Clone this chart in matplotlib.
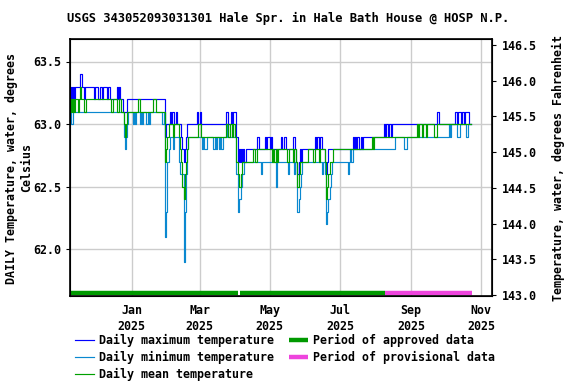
import numpy as np
import pandas as pd
import matplotlib
matplotlib.use('Agg')
import matplotlib.pyplot as plt
import matplotlib.dates as mdates
import matplotlib.transforms as mtransforms

# first day of record
start_day = '2024-11-08'

# daily values, as (value degC, number of days) runs
max_runs = [
    (63.2, 1), (63.3, 1), (63.2, 1), (63.3, 1), (63.2, 1), (63.3, 4), (63.4, 2), (63.3, 1),
    (63.2, 1), (63.3, 8), (63.2, 1), (63.3, 3), (63.2, 1), (63.3, 2), (63.2, 1), (63.3, 3),
    (63.2, 1), (63.3, 2), (63.2, 6), (63.3, 1), (63.2, 1), (63.3, 1), (63.2, 2), (63.1, 4),
    (63.2, 33), (62.9, 1), (63.0, 3), (63.1, 1), (63.0, 1), (63.1, 2), (63.0, 1), (63.1, 1),
    (63.0, 4), (62.9, 1), (62.8, 1), (62.7, 1), (62.8, 1), (62.9, 1), (63.0, 9), (63.1, 1),
    (63.0, 1), (63.1, 1), (63.0, 9), (np.nan, 1), (63.0, 12), (63.1, 2), (63.0, 2), (63.1, 1),
    (63.0, 1), (63.1, 3), (62.9, 1), (62.7, 1), (62.8, 1), (62.7, 1), (62.8, 1), (62.7, 1),
    (62.8, 1), (62.7, 1), (62.8, 10), (62.9, 2), (62.8, 5), (62.9, 1), (62.8, 1), (62.9, 2),
    (62.8, 1), (62.9, 1), (62.8, 8), (62.9, 1), (62.8, 1), (62.9, 2), (62.8, 6), (62.9, 2),
    (62.8, 1), (62.7, 1), (62.6, 1), (62.7, 1), (62.8, 1), (62.7, 1), (62.8, 11), (62.9, 1),
    (62.8, 1), (62.9, 2), (62.8, 1), (62.9, 1), (62.8, 3), (62.7, 1), (62.6, 1), (62.7, 1),
    (62.8, 21), (62.9, 1), (62.8, 1), (62.9, 1), (62.8, 1), (62.9, 2), (62.8, 1), (62.9, 1),
    (62.8, 1), (62.9, 18), (63.0, 1), (62.9, 1), (63.0, 2), (62.9, 1), (63.0, 1), (62.9, 1),
    (63.0, 39), (63.1, 2), (63.0, 14), (63.1, 2), (63.0, 1), (63.1, 2), (63.0, 1), (63.1, 2),
    (63.0, 1), (63.1, 3), (63.0, 3),
]

min_runs = [
    (63.1, 1), (63.0, 2), (63.1, 44), (62.9, 1), (62.8, 1), (62.9, 1), (63.0, 1), (63.1, 4),
    (63.0, 1), (63.1, 1), (63.0, 1), (63.1, 3), (63.0, 1), (63.1, 1), (63.0, 1), (63.1, 2),
    (63.0, 2), (63.1, 1), (63.0, 1), (63.1, 10), (63.0, 2), (63.1, 1), (62.1, 1), (62.3, 1),
    (62.7, 1), (62.8, 1), (62.9, 3), (62.8, 1), (62.9, 4), (62.7, 1), (62.6, 3), (61.9, 1),
    (62.3, 1), (62.6, 1), (62.8, 1), (62.9, 12), (62.8, 1), (62.9, 1), (62.8, 2), (62.9, 4),
    (np.nan, 1), (62.9, 1), (62.8, 1), (62.9, 1), (62.8, 1), (62.9, 2), (62.8, 1), (62.9, 1),
    (62.8, 1), (62.9, 4), (63.0, 1), (62.9, 3), (63.0, 1), (62.9, 3), (62.6, 1), (62.3, 1),
    (62.4, 2), (62.5, 1), (62.6, 2), (62.7, 14), (62.6, 1), (62.7, 12), (62.5, 1), (62.7, 10),
    (62.6, 1), (62.7, 4), (62.6, 1), (62.7, 2), (62.3, 1), (62.4, 1), (62.5, 1), (62.6, 1),
    (62.7, 17), (62.6, 1), (62.7, 2), (62.6, 1), (62.2, 1), (62.3, 1), (62.4, 1), (62.5, 1),
    (62.6, 1), (62.7, 14), (62.6, 1), (62.7, 1), (62.8, 1), (62.7, 1), (62.8, 37), (62.9, 8),
    (62.8, 2), (62.9, 37), (63.0, 1), (62.9, 1), (63.0, 5), (62.9, 2), (63.0, 6), (62.9, 1),
    (63.0, 4),
]

mean_runs = [
    (63.1, 1), (63.2, 1), (63.1, 1), (63.2, 1), (63.1, 1), (63.2, 2), (63.1, 1), (63.2, 1),
    (63.3, 1), (63.2, 2), (63.1, 2), (63.2, 22), (63.1, 2), (63.2, 3), (63.1, 2), (63.2, 2),
    (63.1, 2), (63.0, 1), (62.9, 1), (63.0, 1), (63.1, 9), (63.2, 2), (63.1, 11), (63.2, 3),
    (63.1, 8), (62.7, 1), (62.8, 1), (62.9, 1), (63.0, 4), (62.9, 1), (63.0, 4), (62.9, 1),
    (62.8, 1), (62.7, 1), (62.5, 1), (62.4, 1), (62.6, 1), (62.7, 1), (62.8, 1), (62.9, 9),
    (63.0, 2), (62.9, 9), (np.nan, 1), (62.9, 12), (63.0, 2), (62.9, 1), (63.0, 2), (62.9, 1),
    (63.0, 2), (62.9, 1), (62.7, 1), (62.6, 1), (62.5, 2), (62.6, 1), (62.7, 9), (62.8, 2),
    (62.7, 2), (62.8, 13), (62.7, 1), (62.8, 1), (62.7, 1), (62.8, 1), (62.7, 1), (62.8, 8),
    (62.7, 2), (62.8, 3), (62.7, 1), (62.8, 2), (62.7, 1), (62.5, 1), (62.6, 1), (62.7, 7),
    (62.8, 5), (62.7, 1), (62.8, 4), (62.7, 1), (62.8, 4), (62.7, 1), (62.4, 1), (62.5, 1),
    (62.6, 1), (62.7, 3), (62.8, 34), (62.9, 1), (62.8, 1), (62.9, 37), (63.0, 1), (62.9, 1),
    (63.0, 2), (62.9, 1), (63.0, 3), (62.9, 1), (63.0, 6), (62.9, 2), (63.0, 31),
]

# approval periods (start, end)
approved_periods = [('2024-11-08', '2025-04-03 12:00'), ('2025-04-05', '2025-08-09')]
provisional_periods = [('2025-08-09', '2025-10-24')]


def expand(runs):
    return np.concatenate([np.full(n, v, dtype=float) for v, n in runs])


def series(runs):
    vals = expand(runs)
    days = pd.date_range(start_day, periods=len(vals), freq='D')
    return days, vals


plt.rcParams['font.family'] = 'DejaVu Sans Mono'
plt.rcParams['font.weight'] = 'bold'
fs = 8.4

fig = plt.figure(figsize=(5.76, 3.84), dpi=100)
ax = fig.add_axes([70 / 576, 1 - 296 / 384, 422 / 576, 257 / 384])

c_max = '#0000ff'
c_min = '#0a88d0'
c_mean = '#00a000'
lw = 0.85

for runs, col in [(max_runs, c_max), (min_runs, c_min), (mean_runs, c_mean)]:
    d, v = series(runs)
    ax.plot(d, v, drawstyle='steps-post', color=col, lw=lw)

# approval bars along the bottom
trans = mtransforms.blended_transform_factory(ax.transData, ax.transAxes)
for s, e in approved_periods:
    ax.plot([pd.Timestamp(s), pd.Timestamp(e)], [0.012, 0.012], color='#009900',
            lw=3.2, solid_capstyle='butt', transform=trans)
for s, e in provisional_periods:
    ax.plot([pd.Timestamp(s), pd.Timestamp(e)], [0.012, 0.012], color='#ee44dd',
            lw=3.2, solid_capstyle='butt', transform=trans)

ax.set_xlim(pd.Timestamp('2024-11-08 06:00'), pd.Timestamp('2025-11-10 06:00'))
ax.set_ylim(61.624, 63.68)
ax.set_yticks([62.0, 62.5, 63.0, 63.5])
ax.yaxis.set_major_formatter(matplotlib.ticker.FormatStrFormatter('%.1f'))
ax.xaxis.set_major_locator(mdates.MonthLocator(bymonth=[1, 3, 5, 7, 9, 11]))
ax.xaxis.set_major_formatter(mdates.DateFormatter('%b\n%Y'))
ax.grid(True, color='#cccccc', lw=1.0)
ax.set_axisbelow(True)
ax.tick_params(axis='x', length=0, pad=6, labelsize=fs)
ax.tick_params(axis='y', length=3, pad=3, labelsize=fs, direction='out')
for lab in ax.get_xticklabels():
    lab.set_linespacing(1.25)
for sp in ax.spines.values():
    sp.set_linewidth(1.2)

ax2 = ax.twinx()
ax2.set_ylim(142.986, 146.584)
ax2.set_yticks(np.arange(143.0, 146.51, 0.5))
ax2.yaxis.set_major_formatter(matplotlib.ticker.FormatStrFormatter('%.1f'))
ax2.tick_params(axis='y', length=3, pad=4, labelsize=fs)

fig.text(0.5, 1 - 18 / 384, 'USGS 343052093031301 Hale Spr. in Hale Bath House @ HOSP N.P.',
         ha='center', va='center', fontsize=8.7)
fig.text(19 / 576, 1 - 168 / 384, 'DAILY Temperature, water, degrees\nCelsius',
         rotation=90, ha='center', va='center', multialignment='center', fontsize=fs,
         linespacing=1.2)
fig.text(558 / 576, 1 - 168 / 384, 'Temperature, water, degrees Fahrenheit',
         rotation=90, ha='center', va='center', fontsize=fs)

handles = [
    plt.Line2D([], [], color=c_max, lw=lw),
    plt.Line2D([], [], color=c_min, lw=lw),
    plt.Line2D([], [], color=c_mean, lw=lw),
    plt.Line2D([], [], color='#009900', lw=3.2, solid_capstyle='butt'),
    plt.Line2D([], [], color='#ee44dd', lw=3.2, solid_capstyle='butt'),
]
labels = ['Daily maximum temperature', 'Daily minimum temperature', 'Daily mean temperature',
          'Period of approved data', 'Period of provisional data']
fig.legend(handles, labels, loc='upper left', bbox_to_anchor=(75 / 576, 1 - 334 / 384),
           ncol=2, frameon=False, fontsize=fs, borderpad=0, borderaxespad=0,
           handlelength=1.6, handletextpad=0.45, columnspacing=1.3, labelspacing=0.35)

fig.savefig('out.png', dpi=100)
